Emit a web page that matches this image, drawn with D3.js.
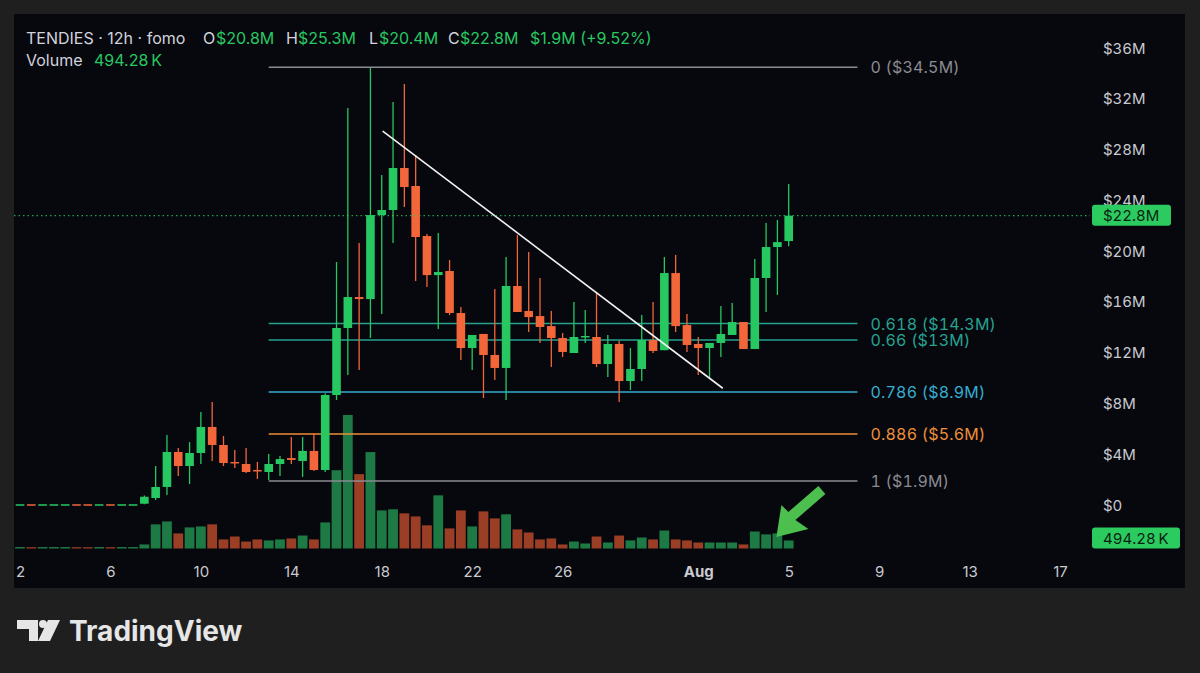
<!DOCTYPE html>
<html>
<head>
<meta charset="utf-8">
<script src="https://cdn.jsdelivr.net/npm/d3@7"></script>
<style>
html,body{margin:0;padding:0;background:#1f1f1f;}
svg{display:block;font-family:Inter,"Noto Sans",sans-serif;}
.tn{font-variant-numeric:tabular-nums;}
</style>
</head>
<body>
<svg id="c" width="1200" height="673"></svg>
<script>
// ---------- DATA ----------
const opens  = [0.05,0.06,0.05,0.05,0.05,0.06,0.06,0.05,0.06,0.05,0.05,
  0.1,0.55,1.42,4.18,3.07,4.10,6.15,4.73,3.39,3.23,2.76,2.60,3.23,3.70,3.47,4.26,2.76,
  8.67,13.95,16.39,16.23,22.85,23.25,26.56,25.14,21.2,18.12,18.44,15.13,12.37,13.48,11.82,10.80,
  17.26,15.29,14.89,14.1,13.16,11.98,13.24,13.24,11.11,12.69,9.77,10.72,13.0,12.2,18.28,14.18,
  12.69,12.37,12.77,13.4,14.42,12.29,17.89,20.33,20.8];
const highs  = [0.06,0.06,0.06,0.06,0.06,0.06,0.06,0.06,0.06,0.06,0.06,
  0.75,3.07,5.52,4.49,4.96,7.33,8.12,5.44,4.33,4.49,3.39,4.02,3.86,5.36,5.36,5.67,8.8,
  19.15,31.28,20.65,34.44,26.0,31.76,33.18,27.58,21.36,21.43,19.31,15.6,13.4,13.48,17.02,19.54,
  21.28,19.94,17.89,15.29,13.55,16.0,15.37,16.78,13.4,12.92,12.37,14.97,16.0,19.54,19.7,15.05,
  13.24,12.77,15.68,15.92,14.42,19.39,22.22,22.46,25.3];
const lows   = [0.05,0.05,0.05,0.05,0.05,0.05,0.05,0.05,0.05,0.05,0.05,
  0.05,0.39,0.79,2.29,1.65,3.23,3.47,3.07,2.92,2.52,2.05,1.97,2.29,3.23,2.21,2.68,2.6,
  8.27,10.24,10.64,13.16,15.05,20.65,23.48,17.65,17.18,13.87,14.97,11.43,10.64,8.43,9.85,8.27,
  15.2,13.63,12.77,10.87,11.66,11.98,12.77,10.87,10.09,8.12,9.06,9.77,11.98,12.2,13.63,12.06,
  10.24,10.0,11.66,13.4,12.29,12.29,15.21,16.55,20.4];
const closes = [0.06,0.05,0.06,0.06,0.06,0.05,0.05,0.06,0.05,0.06,0.06,
  0.65,1.42,4.18,3.07,4.10,6.15,4.73,3.31,3.31,2.60,2.68,3.23,3.62,3.55,4.26,2.76,8.67,
  13.95,16.39,16.23,22.85,23.25,26.56,25.06,21.12,18.12,18.36,15.13,12.37,13.4,11.82,10.80,17.26,
  15.21,14.81,14.03,13.16,12.06,13.24,13.32,11.11,12.69,9.77,10.72,13.0,12.14,18.28,14.1,12.61,
  12.37,12.77,13.48,14.42,12.29,17.89,20.33,20.72,22.8];
const volumes = [90,80,90,90,90,80,80,90,80,90,90,
  250,1490,1670,930,1300,1360,1490,560,740,430,560,500,560,620,800,560,1610,
  4830,8240,4590,5950,2350,2420,2170,1980,1430,3280,1240,2350,1360,2290,1860,2110,
  1180,990,560,620,250,430,310,740,370,800,500,680,560,1110,560,500,
  370,370,370,370,250,1050,870,930,494.28];
const startDate = Date.UTC(2024,6,2);           // first 12h candle
const priceTicks = [0,4,8,12,16,20,24,28,32,36];
const dateTicks = [[2024,6,2],[2024,6,6],[2024,6,10],[2024,6,14],[2024,6,18],[2024,6,22],[2024,6,26],
  [2024,7,1],[2024,7,5],[2024,7,9],[2024,7,13],[2024,7,17]];
const fibLevels = ["0","0.618","0.66","0.786","0.886","1"];
const fibValues = [34.5,14.3,13,8.9,5.6,1.9];
const fibLabels = ["$34.5M","$14.3M","$13M","$8.9M","$5.6M","$1.9M"];
const fibColors = ["#8b8b90","#26a28f","#26a28f","#35aed0","#ee8f3a","#8b8b90"];
const trendDates = [Date.UTC(2024,6,18,1), Date.UTC(2024,7,2,2)];
const trendValues = [29.47, 9.2];
const lastPrice = 22.8, lastVolume = "494.28\u2009K";

// ---------- LAYOUT ----------
const svg = d3.select("#c");
const GREEN="#27c862", RED="#f2663a", VGREEN="#1e7a45", VRED="#9a3e25";
const panel = {x0:14, y0:14, x1:1185, y1:588};
const plotRight = 1090;

const times = opens.map((_,i)=> new Date(startDate + i*12*3600e3));
const x = d3.scaleUtc().domain([new Date(Date.UTC(2024,6,2)), new Date(Date.UTC(2024,7,17))]).range([20,1060]);
const y = d3.scaleLinear().domain([0,36]).range([505,48.2]);
const yv = d3.scaleLinear().domain([0,8300]).range([548.5,414]);

svg.append("rect").attr("width",1200).attr("height",673).attr("fill","#1f1f1f");
svg.append("rect").attr("x",panel.x0).attr("y",panel.y0).attr("width",panel.x1-panel.x0).attr("height",panel.y1-panel.y0).attr("fill","#07070e");

svg.append("clipPath").attr("id","pc").append("rect")
  .attr("x",panel.x0).attr("y",panel.y0).attr("width",plotRight-panel.x0).attr("height",panel.y1-panel.y0);
const g = svg.append("g").attr("clip-path","url(#pc)");

// volume
g.selectAll("rect.v").data(volumes).join("rect").attr("class","v")
  .attr("x",(d,i)=>x(times[i])-4.9).attr("width",9.8)
  .attr("y",d=>Math.min(yv(d), yv(0)-1.2)).attr("height",d=>Math.max(yv(0)-yv(d),1.2))
  .attr("fill",(d,i)=> closes[i]>=opens[i]?VGREEN:VRED);

// fib lines
const fibX0 = x(new Date(Date.UTC(2024,6,13))), fibX1 = x(new Date(Date.UTC(2024,7,8,1)));
fibValues.forEach((v,k)=>{
  g.append("line").attr("x1",fibX0).attr("x2",fibX1).attr("y1",y(v)).attr("y2",y(v))
    .attr("stroke",fibColors[k]).attr("stroke-width",1.5);
  g.append("text").attr("class","tn").attr("x",fibX1+13).attr("y",y(v)+6).attr("fill",fibColors[k])
    .attr("font-size",16).attr("letter-spacing",0.2).text(fibLevels[k]+" ("+fibLabels[k]+")");
});

// candles
const cg = g.append("g");
opens.forEach((o,i)=>{
  const c = closes[i], col = c>=o?GREEN:RED, cx = x(times[i]);
  cg.append("line").attr("x1",cx).attr("x2",cx).attr("y1",y(highs[i])).attr("y2",y(lows[i]))
    .attr("stroke",col).attr("stroke-width",1.3);
  const top = y(Math.max(o,c)), bot = y(Math.min(o,c));
  cg.append("rect").attr("x",cx-4.3).attr("width",8.6).attr("y",top).attr("height",Math.max(bot-top,1.5)).attr("fill",col);
});

// trend line
g.append("line").attr("x1",x(new Date(trendDates[0]))).attr("y1",y(trendValues[0]))
  .attr("x2",x(new Date(trendDates[1]))).attr("y2",y(trendValues[1]))
  .attr("stroke","#f2f2f2").attr("stroke-width",1.6);

// last price dotted line
svg.append("line").attr("x1",panel.x0).attr("x2",plotRight).attr("y1",y(lastPrice)).attr("y2",y(lastPrice))
  .attr("stroke",GREEN).attr("stroke-width",1).attr("stroke-dasharray","1.5,3");

// arrow annotation pointing to last volumes
const tipX = x(times[67]) - 1, tipY = 537;
const arrow = [[0,0],[5,-32],[12,-25],[42,-51],[49,-43],[19,-17],[32,-8]].map(p=>[tipX+p[0],tipY+p[1]]);
svg.append("path").attr("d","M"+arrow.map(p=>p.join(",")).join("L")+"Z").attr("fill","#4cbf4e");

// right axis
const ax = svg.append("g");
priceTicks.forEach(t=>{
  ax.append("text").attr("class","tn").attr("x",1103).attr("y",y(t)+5.5).attr("fill","#c9cad0").attr("font-size",15)
    .text("$"+t+(t===0?"":"M"));
});
// price tag
svg.append("rect").attr("x",1092).attr("y",y(lastPrice)-11).attr("width",79).attr("height",21).attr("rx",3).attr("fill","#2bcb60");
svg.append("text").attr("class","tn").attr("x",1103).attr("y",y(lastPrice)+5.5).attr("fill","#0a1f10").attr("font-size",15).text("$"+lastPrice+"M");
// volume tag
svg.append("rect").attr("x",1092).attr("y",yv(0)-21).attr("width",88).attr("height",21).attr("rx",3).attr("fill","#2bcb60");
svg.append("text").attr("class","tn").attr("x",1103).attr("y",yv(0)-5).attr("fill","#0a1f10").attr("font-size",15).text(lastVolume);

// bottom axis
const xAxis = d3.axisBottom(x)
  .tickValues(dateTicks.map(d=>new Date(Date.UTC(d[0],d[1],d[2]))))
  .tickFormat(d=> d.getUTCDate()===1 ? d3.utcFormat("%b")(d) : d.getUTCDate())
  .tickSize(0).tickPadding(0);
const xa = svg.append("g").attr("transform","translate(0,563)").call(xAxis);
xa.select(".domain").remove();
xa.selectAll("text").attr("fill","#c9cad0").attr("font-size",15).attr("font-family","Inter,sans-serif")
  .attr("dy","0.95em")
  .attr("font-weight",d=>d.getUTCDate()===1?"700":"400");

// header
const hdr = svg.append("text").attr("y",44).attr("font-size",16).attr("fill","#d1d4dc");
const parts = [["TENDIES · 12h · fomo",26,"#d1d4dc"],["O",203,"#d1d4dc"],["$20.8M",216,GREEN],
  ["H",286,"#d1d4dc"],["$25.3M",298,GREEN],["L",369,"#d1d4dc"],["$20.4M",379,GREEN],
  ["C",448,"#d1d4dc"],["$22.8M",460,GREEN],["$1.9M (+9.52%)",530,GREEN]];
parts.forEach(p=> hdr.append("tspan").attr("x",p[1]).attr("fill",p[2]).text(p[0]));
svg.append("text").attr("x",26).attr("y",66).attr("font-size",16).attr("fill","#d1d4dc").text("Volume");
svg.append("text").attr("x",94).attr("y",66).attr("font-size",16).attr("fill",GREEN).text(lastVolume);

// TradingView logo
const lg = svg.append("g").attr("fill","#e6e6e6");
lg.append("path").attr("d","M17,620H38V641H29V629H17Z");
lg.append("circle").attr("cx",43).attr("cy",624).attr("r",4);
lg.append("path").attr("d","M48,620H60L50,641H38Z");
lg.append("text").attr("x",69).attr("y",641).attr("font-size",28).attr("font-weight",700).attr("fill","#e6e6e6").text("TradingView");
</script>
</body>
</html>
